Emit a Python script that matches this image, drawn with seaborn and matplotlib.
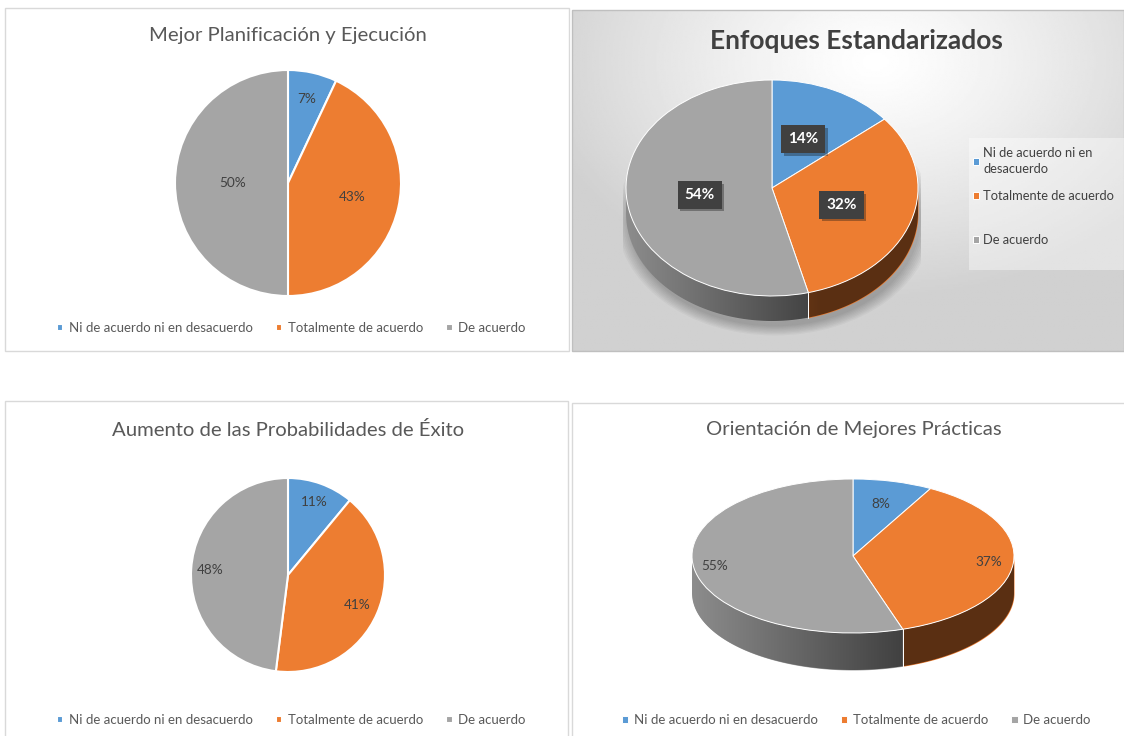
import numpy as np
import matplotlib.pyplot as plt
import matplotlib.patches as mpatches
import matplotlib.patheffects as pe
import seaborn as sns

# data (percent of answers)
categories = ['Ni de acuerdo ni en desacuerdo', 'Totalmente de acuerdo', 'De acuerdo']
planificacion = [7, 43, 50]
enfoques = [14, 32, 54]
exito = [11, 41, 48]
practicas = [8, 37, 55]

titles = ['Mejor Planificación y Ejecución', 'Enfoques Estandarizados',
          'Aumento de las Probabilidades de Éxito', 'Orientación de Mejores Prácticas']

sns.set_theme(style='white')
plt.rcParams['font.family'] = ['Lato', 'DejaVu Sans']

colors = sns.color_palette(['#5b9bd5', '#ed7d31', '#a5a5a5'])

W, H = 1124, 736
fig = plt.figure(figsize=(W / 100, H / 100), dpi=100)


def box(x0, y0, x1, y1):
    # pixel box (origin top-left) -> figure rect
    return [x0 / W, 1 - y1 / H, (x1 - x0) / W, (y1 - y0) / H]


def frame(x0, y0, x1, y1, ec='#d9d9d9'):
    fig.patches.append(mpatches.Rectangle((x0 / W, 1 - y1 / H), (x1 - x0) / W, (y1 - y0) / H,
                                          transform=fig.transFigure, fc='none', ec=ec, lw=1))


# panel frames
frame(5, 8, 569, 351)
frame(5, 401, 568, 740)
frame(572, 403, 1128, 740)

# gradient background of the top right panel
bg = fig.add_axes(box(572, 10, 1124, 351))
yy, xx = np.mgrid[0:1:200j, 0:1:320j]
dist = np.hypot((xx - 0.55) * 1.0, (yy - 0.15) * 0.9)
bg.imshow(1 - 0.18 * np.clip(dist / 0.62, 0, 1) ** 1.2, cmap='gray', vmin=0, vmax=1,
          aspect='auto', extent=(0, 1, 0, 1), origin='upper')
bg.set_xlim(0, 1)
bg.set_ylim(0, 1)
bg.axis('off')
frame(572, 10, 1124, 351, ec='#bfbfbf')


def label_pos(w, r):
    ang = np.deg2rad((w.theta1 + w.theta2) / 2)
    return r * np.cos(ang), r * np.sin(ang)


def flat_pie(values, cx, cy, r, label_r):
    m = 1.04
    ax = fig.add_axes(box(cx - r * m, cy - r * m, cx + r * m, cy + r * m))
    wedges, _ = ax.pie(values, colors=colors, startangle=90, counterclock=False,
                       wedgeprops=dict(edgecolor='white', linewidth=1.5))
    ax.set_aspect('auto')
    ax.set_xlim(-m, m)
    ax.set_ylim(-m, m)
    for w, v, lr in zip(wedges, values, label_r):
        x, y = label_pos(w, lr)
        ax.text(x, y, f'{v}%', ha='center', va='center', fontsize=9.8, color='#404040')
    return wedges


def side_shade(x):
    return np.maximum(0.38, 0.85 - 0.35 * (x + 1))


def pie3d(values, cx, cy, rx, ry, depth, label_r, boxed=False, shadow=False):
    m = 1.02
    d = depth / ry
    pad = 14 if shadow else 0
    ax = fig.add_axes(box(cx - rx * m, cy - ry * m, cx + rx * m, cy + ry * m + depth + pad))
    wedges, _ = ax.pie(values, colors=colors, startangle=90, counterclock=False,
                       wedgeprops=dict(edgecolor='white', linewidth=0.7, zorder=3))
    ax.set_aspect('auto')
    ymin = -m - d - pad / ry
    if shadow:
        # soft shadow under the cylinder
        for k in range(8):
            s = 1.0 + 0.012 * k
            ax.add_patch(mpatches.Ellipse((0.02, -d - 0.05), 2 * s, 2 * s, fc='black',
                                          alpha=0.03, ec='none', zorder=0))
    # visible side of the cylinder (front half, angles -180..0)
    xg = np.linspace(-1, 1, 300)
    for w, c in zip(wedges, colors):
        for k in (-360, 0, 360):
            a = max(w.theta1 + k, -180)
            b = min(w.theta2 + k, 0)
            if b <= a:
                continue
            ts = np.deg2rad(np.linspace(a, b, 120))
            xs = np.cos(ts)
            top = np.sin(ts)
            poly = ax.fill_between(xs, top - d, top, color=c, lw=0, zorder=1)
            img = np.array(c)[None, None, :] * side_shade(xg)[None, :, None]
            im = ax.imshow(img, extent=(-1, 1, -1 - d, 0), aspect='auto', zorder=1.5,
                           interpolation='bilinear')
            im.set_clip_path(poly.get_paths()[0], transform=ax.transData)
            for t in (a, b):
                if -179 < t < -1:
                    tt = np.deg2rad(t)
                    ax.plot([np.cos(tt)] * 2, [np.sin(tt), np.sin(tt) - d],
                            color='white', lw=0.7, zorder=2)
    ax.set_xlim(-m, m)
    ax.set_ylim(ymin, m)
    for w, v, lr in zip(wedges, values, label_r):
        x, y = label_pos(w, lr)
        if boxed:
            t = ax.text(x, y, f'{v}%', ha='center', va='center', fontsize=11,
                        fontweight='bold', color='white', zorder=5,
                        bbox=dict(boxstyle='square,pad=0.45', fc='#404040', ec='none'))
            t.get_bbox_patch().set_path_effects([pe.SimplePatchShadow(offset=(2, -2), alpha=0.35),
                                                 pe.Normal()])
        else:
            ax.text(x, y, f'{v}%', ha='center', va='center', fontsize=9.8,
                    color='#404040', zorder=5)
    return wedges


def bottom_legend(wedges, xc, yc):
    fig.legend(wedges, categories, loc='center', bbox_to_anchor=(xc / W, 1 - yc / H),
               ncol=3, frameon=False, fontsize=9.5, handlelength=0.5, handleheight=0.5,
               handletextpad=0.4, columnspacing=1.75, labelcolor='#595959')


# top left
w1 = flat_pie(planificacion, 288, 183, 113, [0.76, 0.58, 0.49])
fig.text(288 / W, 1 - 36 / H, titles[0], ha='center', va='center', fontsize=14.6, color='#595959')
bottom_legend(w1, 291, 328)

# top right (3D)
w2 = pie3d(enfoques, 772, 188, 146, 108, 25, [0.5, 0.5, 0.5], boxed=True, shadow=True)
fig.text(856 / W, 1 - 41 / H, titles[1], ha='center', va='center', fontsize=19,
         fontweight='bold', color='#404040')
fig.patches.append(mpatches.Rectangle((969 / W, 1 - 270 / H), 155 / W, 132 / H,
                                      transform=fig.transFigure, fc='white', alpha=0.4, ec='none'))
labels_tr = ['Ni de acuerdo ni en\ndesacuerdo', categories[1], categories[2]]
for w, lab, yc in zip(w2, labels_tr, [161, 196, 240]):
    leg = fig.legend([w], [lab], loc='center left', bbox_to_anchor=(973 / W, 1 - yc / H),
                     frameon=False, fontsize=9.3, handlelength=0.5, handleheight=0.5,
                     handletextpad=0.3, labelcolor='#404040', borderaxespad=0, borderpad=0,
                     alignment='left')
    leg.get_texts()[0].set_linespacing(1.35)

# bottom left
w3 = flat_pie(exito, 288, 575, 97, [0.8, 0.78, 0.8])
fig.text(288 / W, 1 - 430 / H, titles[2], ha='center', va='center', fontsize=14.6, color='#595959')
bottom_legend(w3, 291, 720)

# bottom right (3D)
w4 = pie3d(practicas, 853, 556, 161, 77, 37, [0.7, 0.85, 0.87])
fig.text(854 / W, 1 - 430 / H, titles[3], ha='center', va='center', fontsize=14.6, color='#595959')
bottom_legend(w4, 856, 720)

fig.savefig('out.png', dpi=100)
